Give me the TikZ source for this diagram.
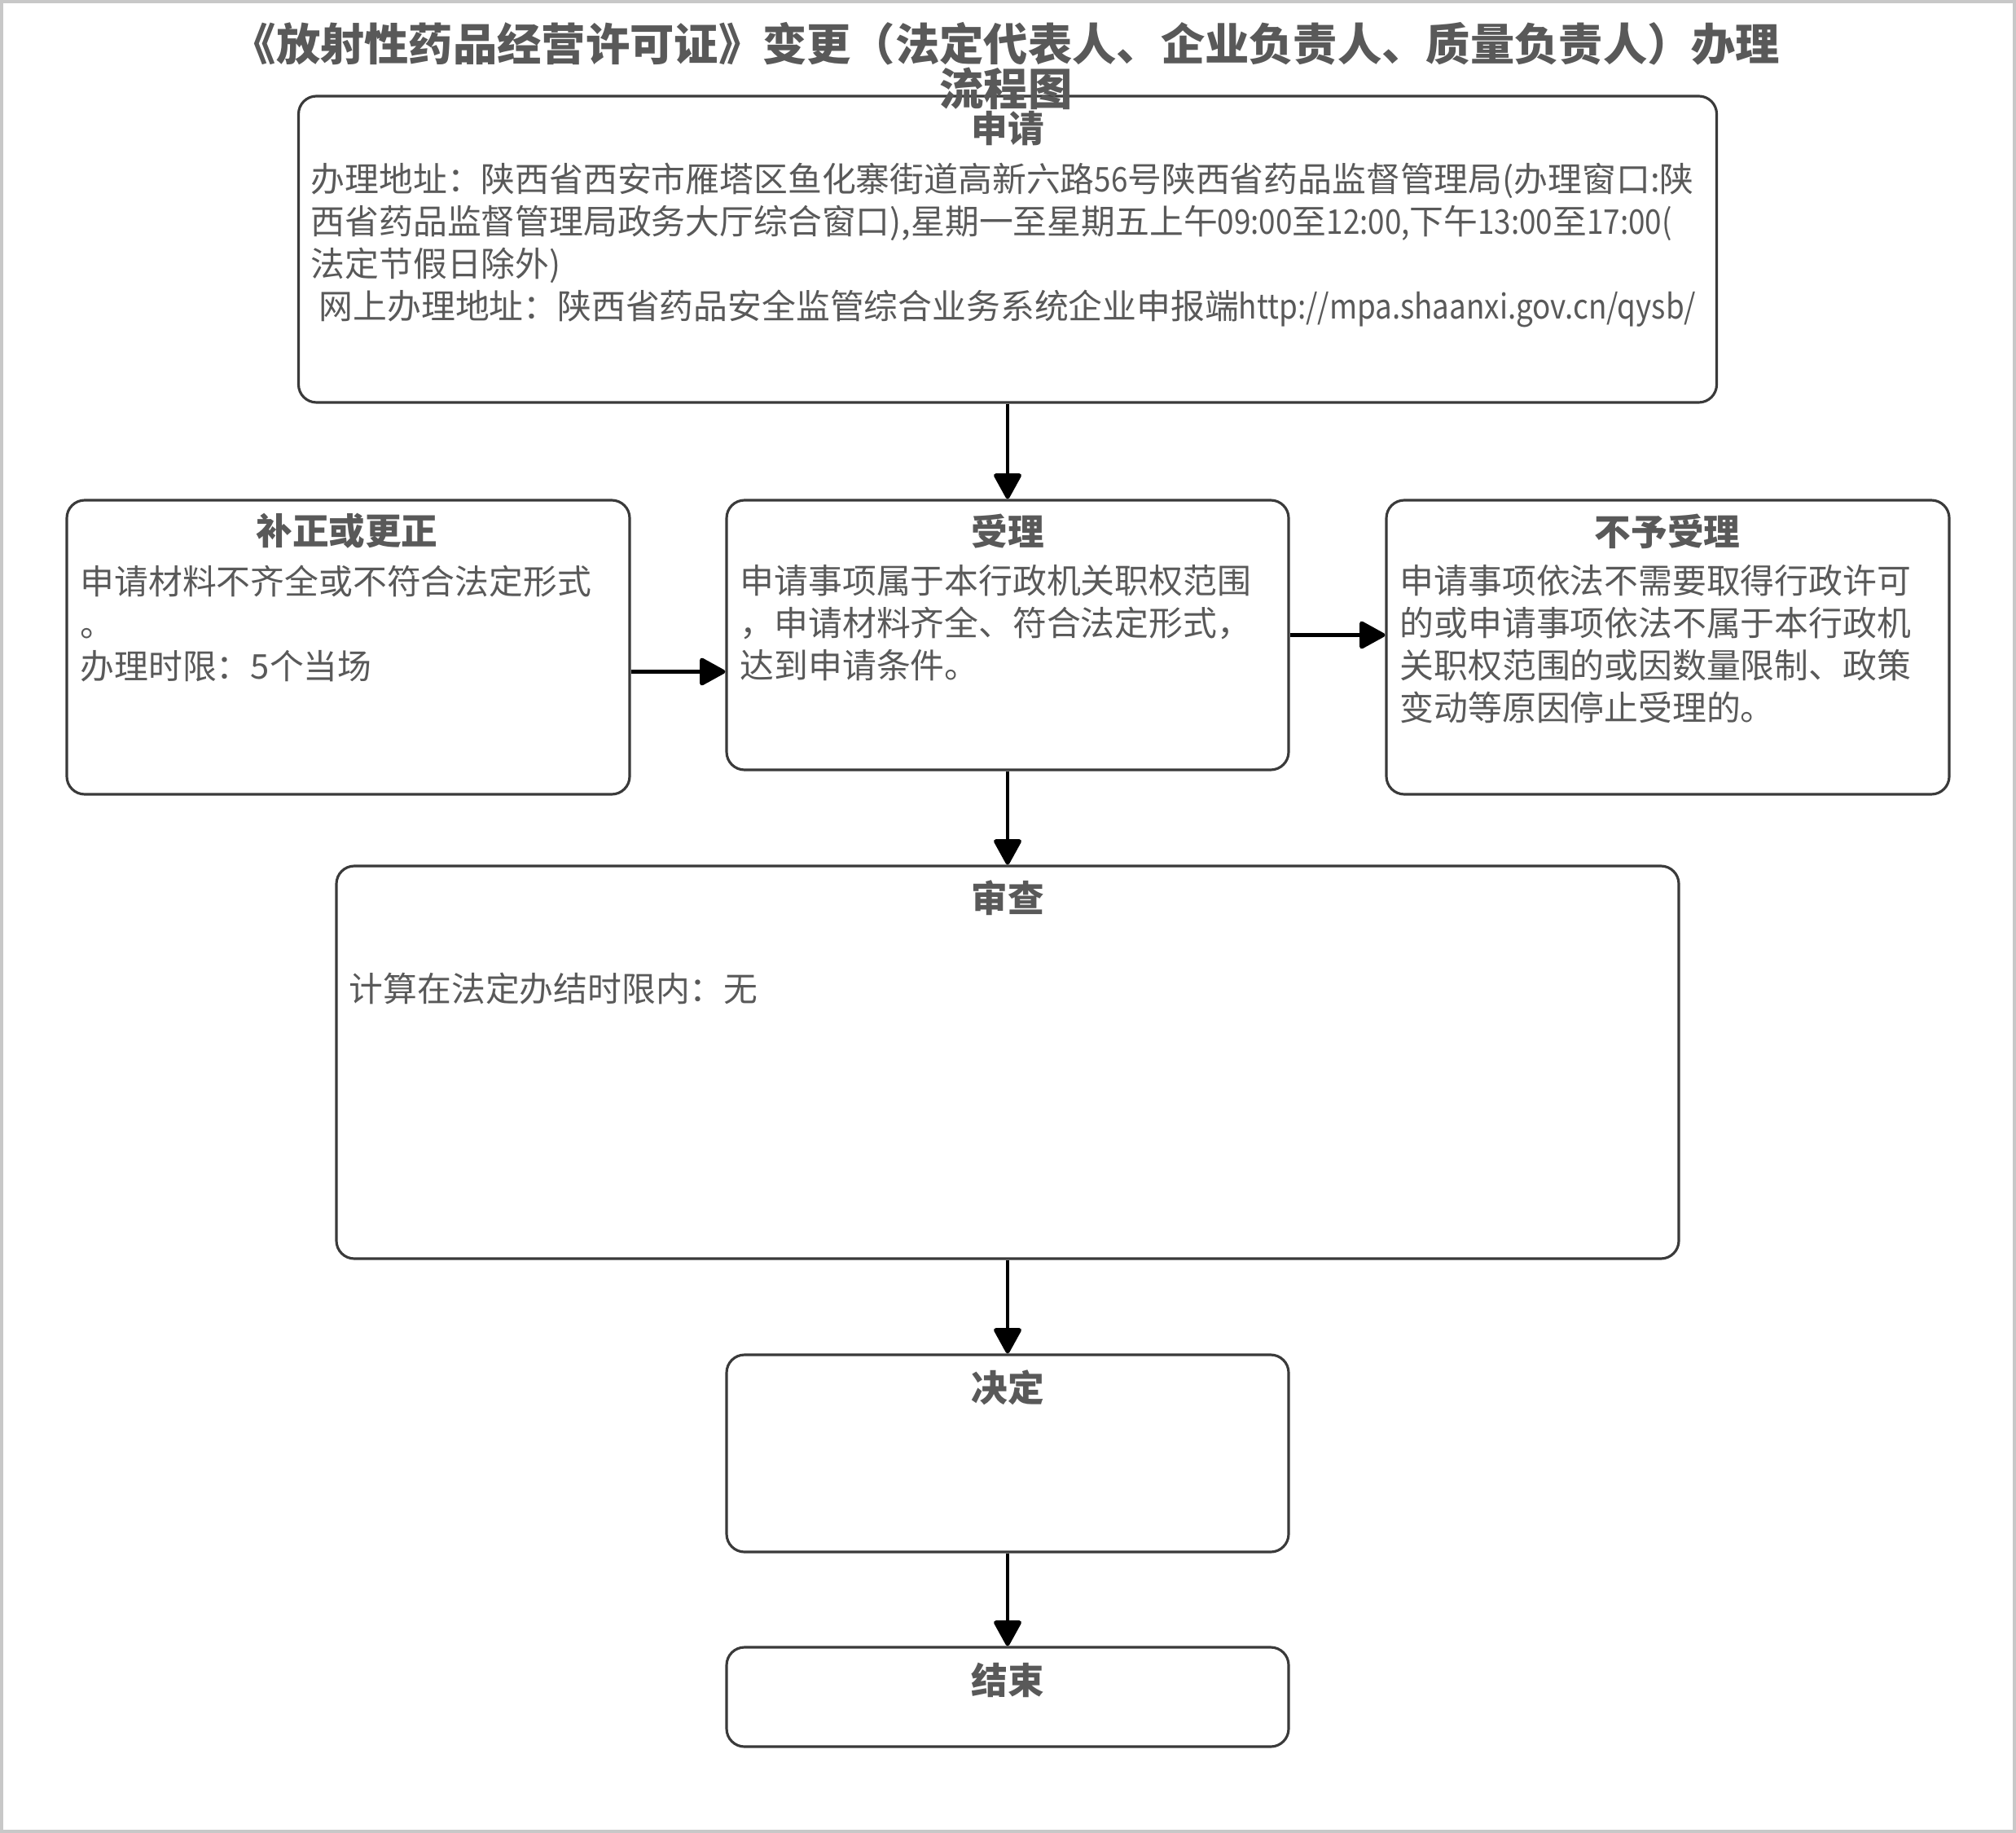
\documentclass[tikz,border=0pt]{standalone}
\usepackage{fontspec}
\setmainfont{Noto Sans CJK SC}
\newfontfamily\latn[FakeStretch=0.88]{Noto Sans CJK SC}
\usetikzlibrary{arrows.meta}
\definecolor{txtgray}{HTML}{595959}
\definecolor{boxline}{HTML}{3A3A3A}
\definecolor{framegray}{HTML}{C8C8C8}

\begin{document}
\begin{tikzpicture}[x=1cm,y=-1cm,
  stage/.style={draw=boxline,line width=0.9pt,rounded corners=0.22cm,fill=white,inner sep=0pt},
  head/.style={text=txtgray,font=\fontsize{12.7pt}{15pt}\selectfont\bfseries,inner sep=0pt},
  body/.style={text=txtgray,font=\fontsize{11.9pt}{14.8pt}\selectfont,align=left,inner sep=0pt,anchor=north west},
  flow/.style={line width=1.4pt,-{Triangle[length=0.34cm,width=0.36cm,round]}}]
  \useasboundingbox (0,0) rectangle (24.75,22.5);
  \draw[framegray,line width=0.9pt] (0.02,0.02) rectangle (24.73,22.48);

  \node[stage,minimum width=17.41cm,minimum height=3.76cm] (apply) at (12.37,3.06) {};
  \node[stage,minimum width=6.91cm,minimum height=3.61cm] (fix) at (4.275,7.945) {};
  \node[stage,minimum width=6.9cm,minimum height=3.31cm] (accept) at (12.37,7.795) {};
  \node[stage,minimum width=6.91cm,minimum height=3.61cm] (reject) at (20.475,7.945) {};
  \node[stage,minimum width=16.48cm,minimum height=4.82cm] (review) at (12.37,13.04) {};
  \node[stage,minimum width=6.9cm,minimum height=2.42cm] (decide) at (12.37,17.84) {};
  \node[stage,minimum width=6.9cm,minimum height=1.22cm] (finish) at (12.37,20.83) {};

  \node[text=txtgray,font=\fontsize{15.45pt}{14.6pt}\selectfont\bfseries,align=center,inner sep=0pt] (title) at (12.35,0.81)
    {《放射性药品经营许可证》变更（法定代表人、企业负责人、质量负责人）办理\\流程图};

  \node[head] (apply-t) at (12.37,1.58) {申请};
  \node[body] (apply-b) at (3.81,1.99) {办理地址：陕西省西安市雁塔区鱼化寨街道高新六路{\latn 56}号陕西省药品监督管理局(办理窗口:陕\\
    西省药品监督管理局政务大厅综合窗口),星期一至星期五上午{\latn 09:00}至{\latn 12:00,}下午{\latn 13:00}至{\latn 17:00(}\\
    法定节假日除外)\\
    \hspace*{0.1cm}网上办理地址：陕西省药品安全监管综合业务系统企业申报端{\latn http://mpa.shaanxi.gov.cn/qysb/}};

  \node[head] (fix-t) at (4.26,6.52) {补正或更正};
  \node[body] (fix-b) at (0.98,6.93) {申请材料不齐全或不符合法定形式\\。\\办理时限：5个当场};

  \node[head] (accept-t) at (12.37,6.52) {受理};
  \node[body] (accept-b) at (9.08,6.93) {申请事项属于本行政机关职权范围\\，申请材料齐全、符合法定形式，\\达到申请条件。};

  \node[head] (reject-t) at (20.47,6.52) {不予受理};
  \node[body] (reject-b) at (17.18,6.93) {申请事项依法不需要取得行政许可\\的或申请事项依法不属于本行政机\\关职权范围的或因数量限制、政策\\变动等原因停止受理的。};

  \node[head] (review-t) at (12.37,11.02) {审查};
  \node[body,anchor=west] (review-b) at (4.28,12.14) {计算在法定办结时限内：无};

  \node[head] (decide-t) at (12.37,17.03) {决定};
  \node[head] (finish-t) at (12.37,20.62) {结束};

  \coordinate (fixout) at ([yshift=-3mm]fix.east);
  \draw[flow] (apply.south) -- (accept.north);
  \draw[flow] (fixout) -- (fixout -| accept.west);
  \draw[flow] (accept.east) -- (accept.east -| reject.west);
  \draw[flow] (accept.south) -- (review.north);
  \draw[flow] (review.south) -- (decide.north);
  \draw[flow] (decide.south) -- (finish.north);
\end{tikzpicture}
\end{document}
